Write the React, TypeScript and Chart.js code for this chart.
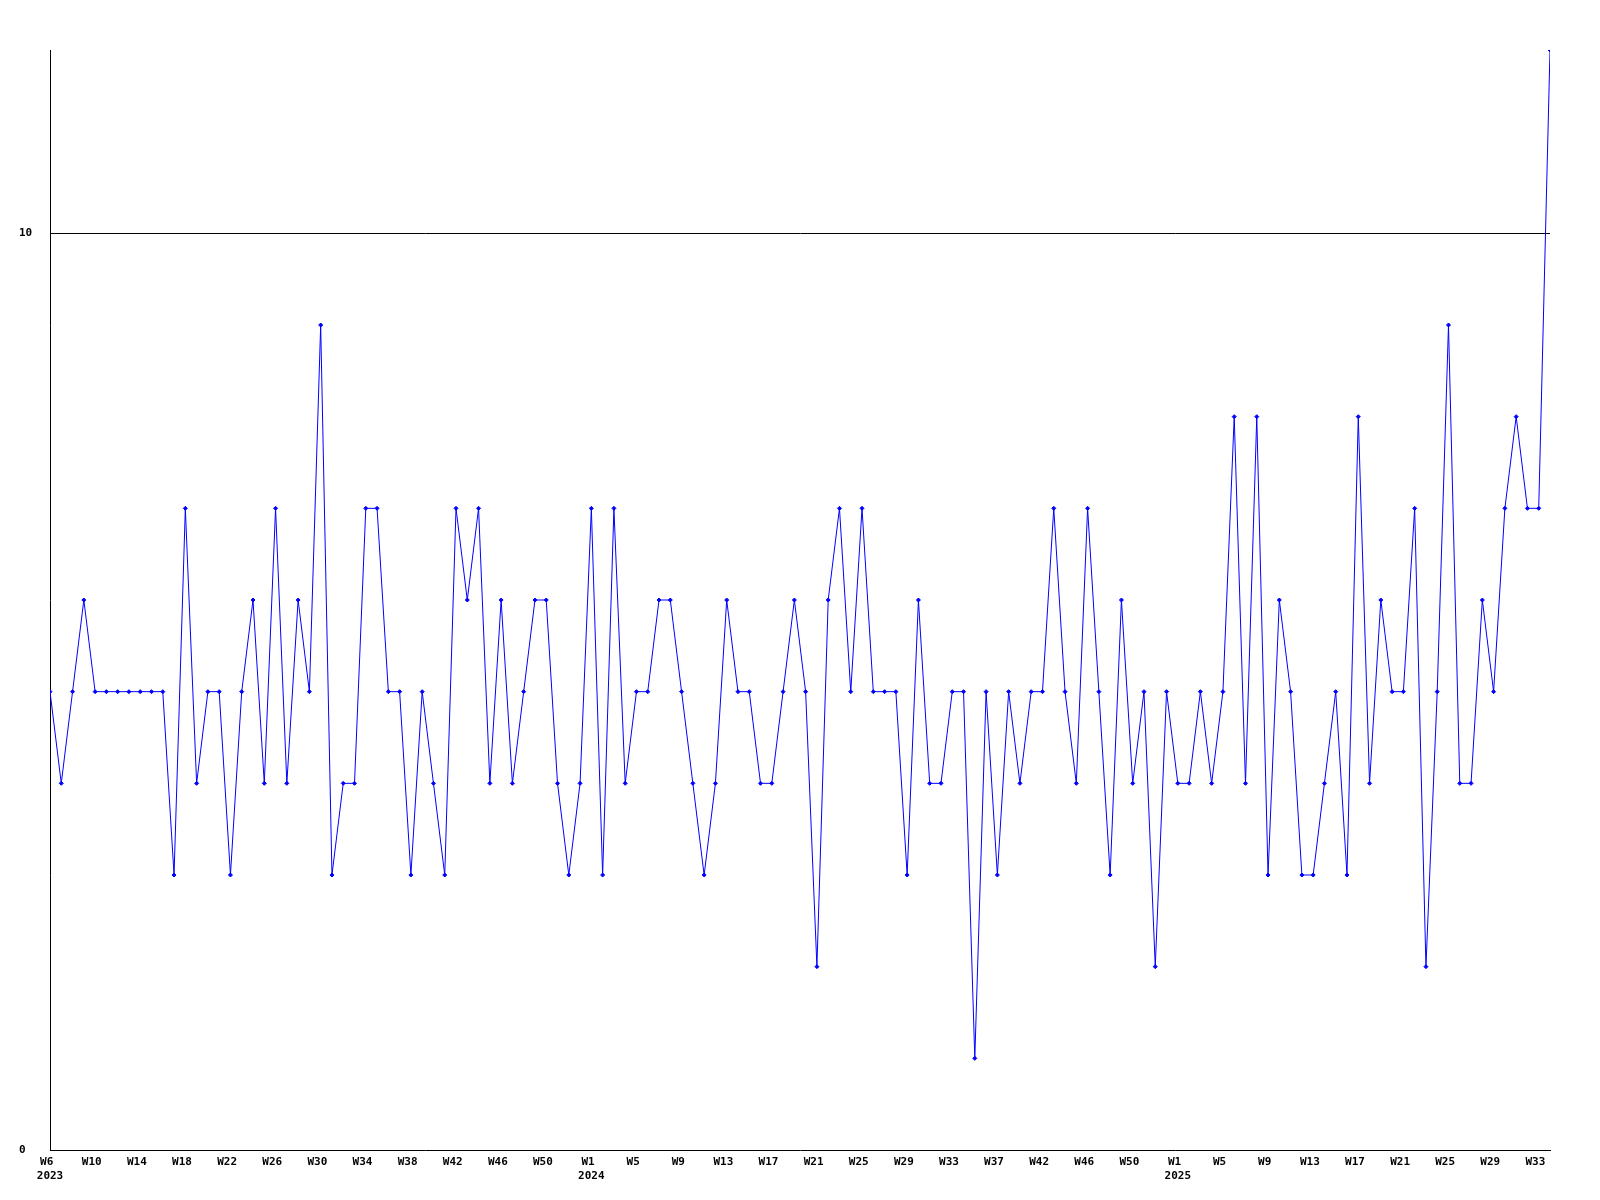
import React, { useEffect, useRef } from "react";
import { Chart, registerables } from "chart.js";

Chart.register(...registerables);

// Week categories (as labelled on the reference)
const weeks2023 = ["W6","W7","W8","W9","W10","W11","W12","W13","W14","W15","W16","W17","W18","W19","W20","W21","W22","W23","W24","W25","W26","W27","W28","W29","W30","W31","W32","W33","W34","W35","W36","W37","W38","W39","W40","W41","W42","W43","W44","W45","W46","W47","W48","W49","W50","W51","W52","W53"];
const weeks2024 = ["W1","W2","W3","W4","W5","W6","W7","W8","W9","W10","W11","W12","W13","W14","W15","W16","W17","W18","W19","W20","W21","W22","W23","W24","W25","W26","W27","W28","W29","W30","W31","W32","W33","W34","W35","W36","W37","W38","W39","W40","W42","W43","W44","W45","W46","W47","W48","W49","W50","W51","W52","W53"];
const weeks2025 = ["W1","W2","W3","W4","W5","W6","W7","W8","W9","W10","W11","W12","W13","W14","W15","W16","W17","W18","W19","W20","W21","W22","W23","W24","W25","W26","W27","W28","W29","W30","W31","W32","W33","W34"];
const yearLabels = ["2023", "2024", "2025"];

// Weekly values
const values2023 = [5,4,5,6,5,5,5,5,5,5,5,3,7,4,5,5,3,5,6,4,7,4,6,5,9,3,4,4,7,7,5,5,3,5,4,3,7,6,7,4,6,4,5,6,6,4,3,4];
const values2024 = [7,3,7,4,5,5,6,6,5,4,3,4,6,5,5,4,4,5,6,5,2,6,7,5,7,5,5,5,3,6,4,4,5,5,1,5,3,5,4,5,5,7,5,4,7,5,3,6,4,5,2,5];
const values2025 = [4,4,5,4,5,8,4,8,3,6,5,3,3,4,5,3,8,4,6,5,5,7,2,5,9,4,4,6,5,7,8,7,7,12];

const yTicks = [0, 10];
const yMax = 12;

export default function App() {
  const ref = useRef<HTMLCanvasElement | null>(null);

  useEffect(() => {
    if (!ref.current) return;
    const labels = [...weeks2023, ...weeks2024, ...weeks2025];
    const data = [...values2023, ...values2024, ...values2025];
    const yearStarts: Record<number, string> = {
      0: yearLabels[0],
      [weeks2023.length]: yearLabels[1],
      [weeks2023.length + weeks2024.length]: yearLabels[2],
    };
    const tickFont = { family: '"DejaVu Sans Mono", monospace', size: 11, weight: "bold" as const, lineHeight: 1.27 };

    const chart = new Chart(ref.current, {
      type: "line",
      data: {
        labels,
        datasets: [
          {
            data,
            borderColor: "#0000ff",
            backgroundColor: "#0000ff",
            borderWidth: 1,
            pointStyle: "rectRot",
            pointRadius: 2,
            pointBorderWidth: 1,
            pointBackgroundColor: "#0000ff",
            pointBorderColor: "#0000ff",
            tension: 0,
            fill: false,
            clip: 0,
          },
        ],
      },
      options: {
        responsive: false,
        animation: false,
        devicePixelRatio: 1,
        layout: { padding: { left: 19, top: 50, right: 50, bottom: 0 } },
        plugins: { legend: { display: false }, tooltip: { enabled: false } },
        scales: {
          x: {
            type: "category",
            offset: false,
            grid: { display: false, drawTicks: false },
            border: { display: true, color: "#000", width: 1 },
            ticks: {
              autoSkip: false,
              maxRotation: 0,
              minRotation: 0,
              padding: 5,
              color: "#000",
              font: tickFont,
              callback: function (_v: any, idx: number) {
                if (idx % 4 !== 0) return null as any;
                const w = labels[idx] + " ";
                return yearStarts[idx] ? [w, yearStarts[idx]] : w;
              },
            },
            afterFit: (scale: any) => {
              scale.height = 50;
            },
          },
          y: {
            min: 0,
            max: yMax,
            grid: {
              drawTicks: false,
              color: (ctx: any) => (ctx.tick && ctx.tick.value === 10 ? "#000" : "rgba(0,0,0,0)"),
              lineWidth: 1,
            },
            border: { display: true, color: "#000", width: 1 },
            ticks: {
              crossAlign: "far",
              padding: 0,
              color: "#000",
              font: tickFont,
            },
            afterBuildTicks: (scale: any) => {
              scale.ticks = yTicks.map((v) => ({ value: v }));
            },
            afterFit: (scale: any) => {
              scale.width = 31;
            },
          },
        },
      },
    });
    return () => chart.destroy();
  }, []);

  return (
    <div style={{ position: "fixed", left: 0, top: 0, width: 1600, height: 1200, background: "#fff" }}>
      <canvas ref={ref} width={1600} height={1200} />
    </div>
  );
}
